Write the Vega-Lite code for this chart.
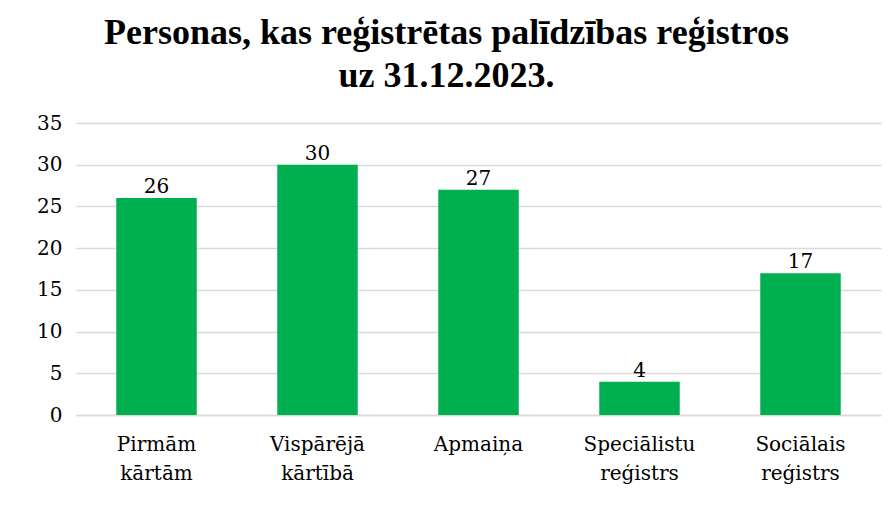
{
  "$schema": "https://vega.github.io/schema/vega-lite/v6.json",
  "width": 805,
  "height": 292,
  "autosize": {"type": "none"},
  "padding": {"left": 76, "top": 123, "right": 11, "bottom": 93},
  "background": "white",
  "title": {
    "text": ["Personas, kas reģistrētas palīdzības reģistros", "uz 31.12.2023."],
    "font": "Liberation Serif",
    "fontSize": 36,
    "fontWeight": "bold",
    "color": "#000000",
    "lineHeight": 43,
    "anchor": "middle",
    "dx": -32,
    "offset": 18
  },
  "data": {
    "values": [
      {"kategorija": "Pirmām|kārtām", "skaits": 26},
      {"kategorija": "Vispārējā|kārtībā", "skaits": 30},
      {"kategorija": "Apmaiņa", "skaits": 27},
      {"kategorija": "Speciālistu|reģistrs", "skaits": 4},
      {"kategorija": "Sociālais|reģistrs", "skaits": 17}
    ]
  },
  "encoding": {
    "x": {
      "field": "kategorija",
      "type": "nominal",
      "sort": null,
      "scale": {"paddingInner": 0.5, "paddingOuter": 0.25},
      "axis": {
        "title": null,
        "labelExpr": "split(datum.label, '|')",
        "labelAngle": 0,
        "labelFont": "DejaVu Serif",
        "labelFontSize": 20,
        "labelColor": "#000000",
        "labelLineHeight": 29,
        "labelPadding": 19,
        "labelBaseline": "top",
        "ticks": false,
        "domain": true,
        "domainColor": "#d9d9d9",
        "domainWidth": 1.5
      }
    },
    "y": {
      "field": "skaits",
      "type": "quantitative",
      "scale": {"domain": [0, 35]},
      "axis": {
        "title": null,
        "values": [0, 5, 10, 15, 20, 25, 30, 35],
        "labelFont": "DejaVu Serif",
        "labelFontSize": 20,
        "labelColor": "#000000",
        "labelPadding": 14,
        "ticks": false,
        "domain": false,
        "grid": true,
        "gridColor": "#d9d9d9",
        "gridWidth": 1.5
      }
    }
  },
  "layer": [
    {"mark": {"type": "bar", "color": "#00B050"}},
    {
      "mark": {
        "type": "text",
        "baseline": "alphabetic",
        "dy": -5,
        "font": "DejaVu Serif",
        "fontSize": 20,
        "color": "#000000"
      },
      "encoding": {"text": {"field": "skaits", "type": "quantitative"}}
    }
  ],
  "config": {"view": {"stroke": null}}
}
